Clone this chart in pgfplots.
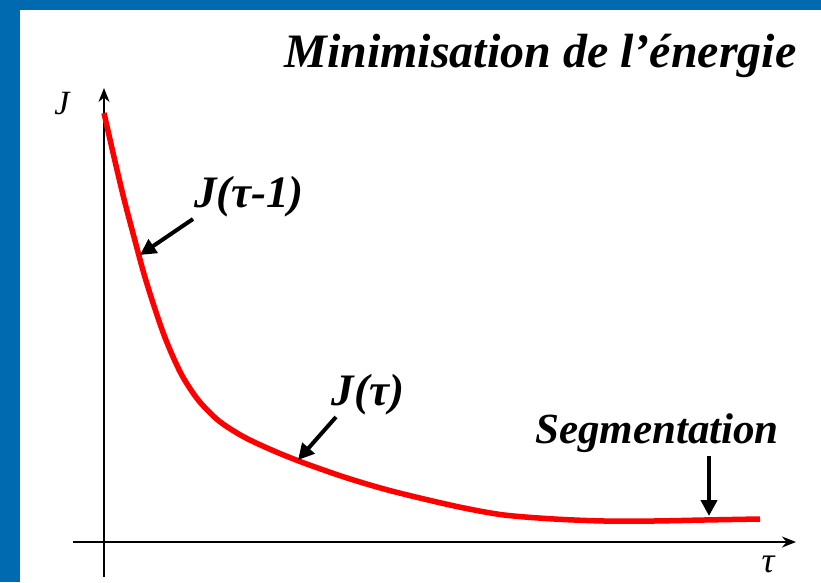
\documentclass[border=0pt]{standalone}
\usepackage{pgfplots}
\pgfplotsset{compat=1.18}
\usepackage{fontspec}
\setmainfont{Liberation Serif}
\usetikzlibrary{arrows.meta}
\definecolor{slideblue}{RGB}{0,106,176}
\definecolor{curvered}{RGB}{255,0,0}
\begin{document}
\begin{tikzpicture}
\begin{axis}[
  width=821pt, height=582pt, scale only axis,
  xmin=-104, xmax=717, ymin=-40, ymax=542,
  axis lines=none, ticks=none, clip=false,
]
\fill[white] (axis cs:-104,-40) rectangle (axis cs:717,542);
\fill[slideblue] (axis cs:-104,-40) rectangle (axis cs:-84,542);
\fill[slideblue] (axis cs:-104,532) rectangle (axis cs:717,542);
% axes
\draw[line width=1.8pt,-{Stealth[length=14pt,width=11pt]}] (axis cs:-31,0) -- (axis cs:692,0);
\draw[line width=1.8pt,-{Stealth[length=14pt,width=11pt]}] (axis cs:0,-35) -- (axis cs:0,454);
\node[font=\fontsize{34}{38}\selectfont\itshape] at (axis cs:-42,438) {J};
\node[font=\fontsize{36}{40}\selectfont\itshape] at (axis cs:664,-22) {τ};
% curve
\addplot[curvered, line width=5.5pt, smooth, tension=0.5] coordinates {
(0,429) (10,385) (20,343) (30,305) (40,268) (50,236) (60,207) (70,183)
(80,163) (95,141) (115,121) (140,105) (170,91) (200,79) (240,65) (280,53)
(320,43) (360,34) (400,27) (450,23) (500,21) (550,21) (600,22) (656,23)
};
% annotations
\draw[line width=4pt,-{Triangle[length=16pt,width=16pt]}] (axis cs:89,323) -- (axis cs:36,287);
\draw[line width=4pt,-{Triangle[length=16pt,width=16pt]}] (axis cs:232,125) -- (axis cs:194,82);
\draw[line width=4pt,-{Triangle[length=16pt,width=16pt]}] (axis cs:605,86) -- (axis cs:605,26);
\node[font=\fontsize{45}{50}\selectfont\bfseries\itshape, anchor=base] at (axis cs:145,335) {J(τ-1)};
\node[font=\fontsize{45}{50}\selectfont\bfseries\itshape, anchor=base] at (axis cs:264,137) {J(τ)};
\node[font=\fontsize{43}{50}\selectfont\bfseries\itshape, anchor=base] at (axis cs:553,99) {Segmentation};
\node[font=\fontsize{48}{54}\selectfont\bfseries\itshape, anchor=base east] at (axis cs:696,474) {Minimisation de l’énergie};
\end{axis}
\end{tikzpicture}
\end{document}
